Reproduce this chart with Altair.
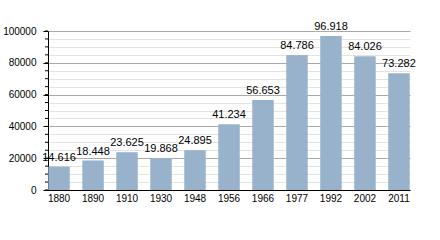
import altair as alt
import pandas as pd

years = ["1880", "1890", "1910", "1930", "1948", "1956", "1966", "1977", "1992", "2002", "2011"]
population = [14616, 18448, 23625, 19868, 24895, 41234, 56653, 84786, 96918, 84026, 73282]
labels = [f"{v:,}".replace(",", ".") for v in population]

major_ticks = [0, 20000, 40000, 60000, 80000, 100000]
minor_ticks = [0, 5000, 10000, 15000, 20000, 25000, 30000, 35000, 40000, 45000, 50000,
               55000, 60000, 65000, 70000, 75000, 80000, 85000, 90000, 95000, 100000]

df = pd.DataFrame({"year": years, "pop": population, "label": labels})
df_minor = pd.DataFrame({"v": minor_ticks})

FONT = "Liberation Sans"

xenc = alt.X("year:N", sort=years, title=None,
             scale=alt.Scale(paddingInner=0.38, paddingOuter=0.015),
             axis=alt.Axis(labelAngle=0, ticks=False, labelPadding=3, domainColor="black",
                           labelFont=FONT, labelFontSize=10, labelColor="black", grid=False))

yscale = alt.Scale(domain=[0, 100000], nice=False)

minor = alt.Chart(df).mark_bar(color="#98b2cc", size=21).encode(
    x=xenc,
    y=alt.Y("pop:Q", scale=yscale, title=None,
            axis=alt.Axis(orient="left", values=minor_ticks, labels=False, ticks=False,
                          domain=False, grid=True, gridColor="#e3e3e3", gridWidth=1)),
)

major = alt.Chart(df).mark_bar(color="#98b2cc", size=21).encode(
    x=xenc,
    y=alt.Y("pop:Q", scale=yscale, title=None,
            axis=alt.Axis(orient="left", values=major_ticks, format="d", tickSize=5, tickColor="black",
                          domainColor="black", labelPadding=7, labelFont=FONT, labelFontSize=10,
                          labelColor="black", grid=True, gridColor="#aaaaaa", gridWidth=1)),
)

minor_tick_marks = alt.Chart(df_minor).mark_rule(color="black", strokeWidth=1).encode(
    y=alt.Y("v:Q", scale=yscale, axis=None),
    x=alt.value(-3),
    x2=alt.value(0),
)

text = alt.Chart(df).mark_text(baseline="bottom", dy=-4, font=FONT, fontSize=11, color="black").encode(
    x=alt.X("year:N", sort=years),
    y=alt.Y("pop:Q", scale=yscale, axis=None),
    text="label:N",
)

chart = alt.layer(minor, major, minor_tick_marks, text).resolve_axis(y="independent").properties(
    width=362, height=159,
    padding={"left": 48, "top": 31, "right": 30, "bottom": 50},
    autosize=alt.AutoSizeParams(type="none"),
).configure_view(stroke=None)

chart.save("out.html", embed_options={"renderer": "svg", "actions": False})
